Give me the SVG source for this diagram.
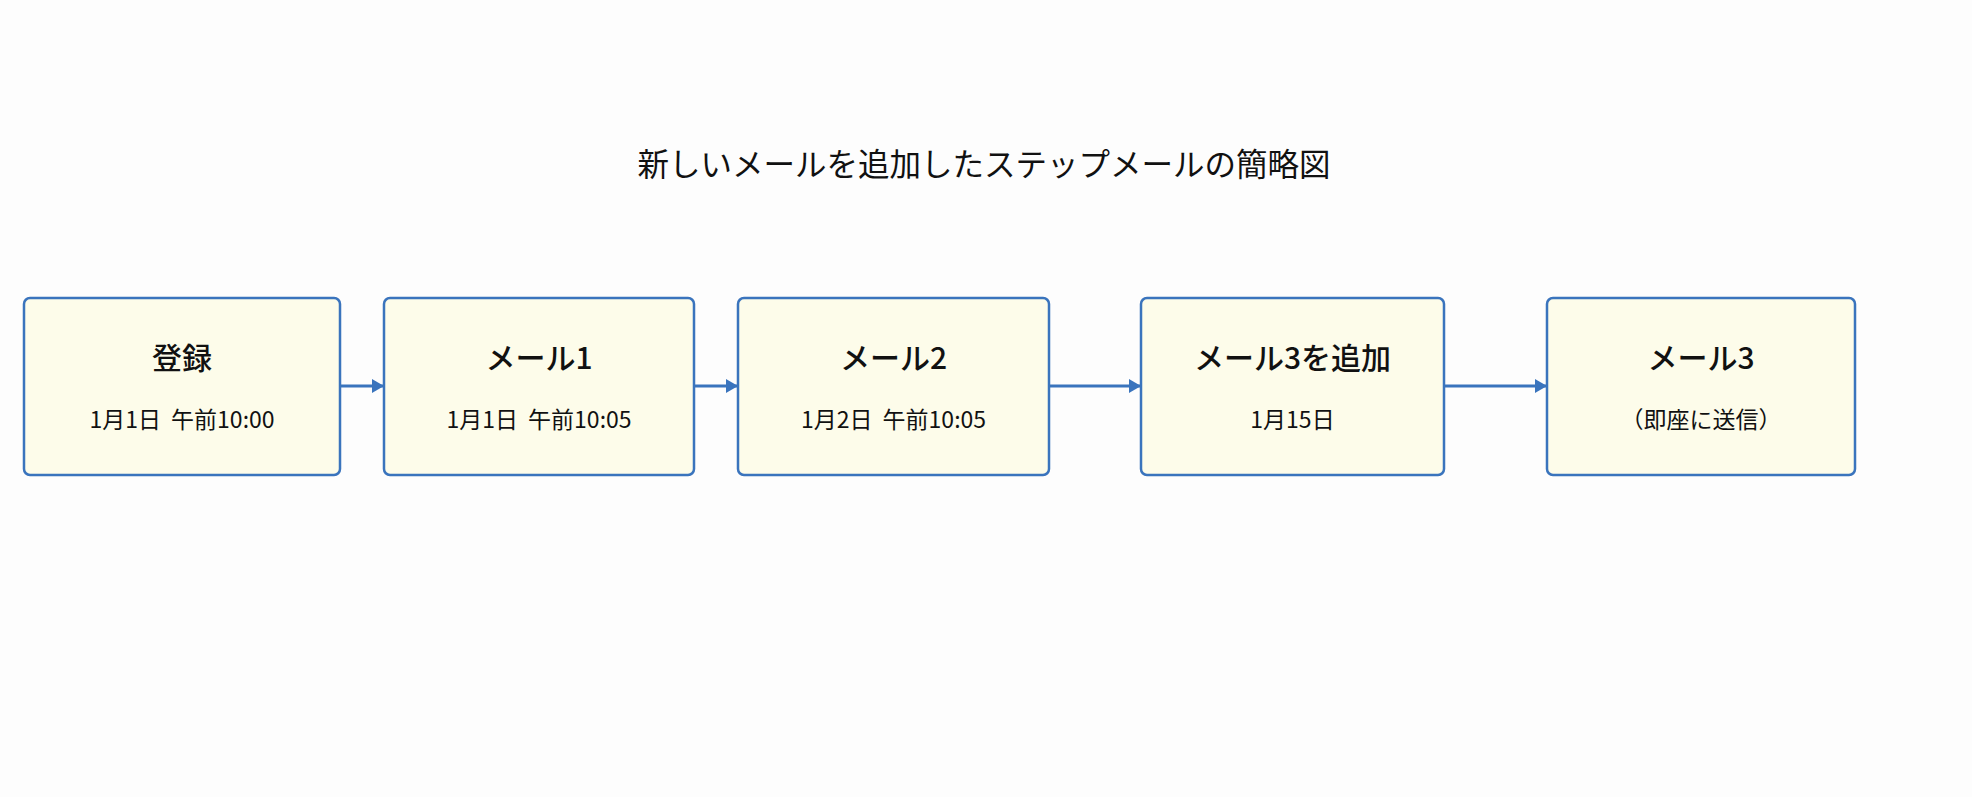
<svg xmlns="http://www.w3.org/2000/svg" width="1972" height="797" viewBox="0 0 1972 797">
<style>
.box{fill:#FDFCEA;stroke:#3A74BD;stroke-width:2.5}
.t{font-family:"Noto Sans CJK JP","Noto Sans",sans-serif;fill:#111;text-anchor:middle}
.main{font-size:30px;font-weight:500}
.sub{font-size:23px;word-spacing:5px}
.title{font-size:31.5px}
.conn{stroke:#3A74BD;stroke-width:3;fill:none}
</style>
<defs>
<marker id="ah" markerWidth="12" markerHeight="14" refX="12" refY="7" orient="auto" markerUnits="userSpaceOnUse">
<path d="M0,0 L12,7 L0,14 Z" fill="#3A74BD"/>
</marker>
</defs>
<rect width="1972" height="797" fill="#FDFDFD"/>
<text class="t title" x="984" y="176">新しいメールを追加したステップメールの簡略図</text>
<g id="connectors">
<line class="conn" x1="340" y1="386" x2="384" y2="386" marker-end="url(#ah)"/>
<line class="conn" x1="694" y1="386" x2="738" y2="386" marker-end="url(#ah)"/>
<line class="conn" x1="1049" y1="386" x2="1141" y2="386" marker-end="url(#ah)"/>
<line class="conn" x1="1444" y1="386" x2="1547" y2="386" marker-end="url(#ah)"/>
</g>
<g id="node1">
<rect class="box" x="24" y="298" width="316" height="177" rx="6"/>
<text class="t main" x="182" y="369">登録</text>
<text class="t sub" x="182" y="428">1月1日 午前10:00</text>
</g>
<g id="node2">
<rect class="box" x="384" y="298" width="310" height="177" rx="6"/>
<text class="t main" x="539" y="369">メール1</text>
<text class="t sub" x="539" y="428">1月1日 午前10:05</text>
</g>
<g id="node3">
<rect class="box" x="738" y="298" width="311" height="177" rx="6"/>
<text class="t main" x="893.5" y="369">メール2</text>
<text class="t sub" x="893.5" y="428">1月2日 午前10:05</text>
</g>
<g id="node4">
<rect class="box" x="1141" y="298" width="303" height="177" rx="6"/>
<text class="t main" x="1292.5" y="369">メール3を追加</text>
<text class="t sub" x="1292.5" y="428">1月15日</text>
</g>
<g id="node5">
<rect class="box" x="1547" y="298" width="308" height="177" rx="6"/>
<text class="t main" x="1701" y="369">メール3</text>
<text class="t sub" x="1701" y="428">（即座に送信）</text>
</g>
</svg>
